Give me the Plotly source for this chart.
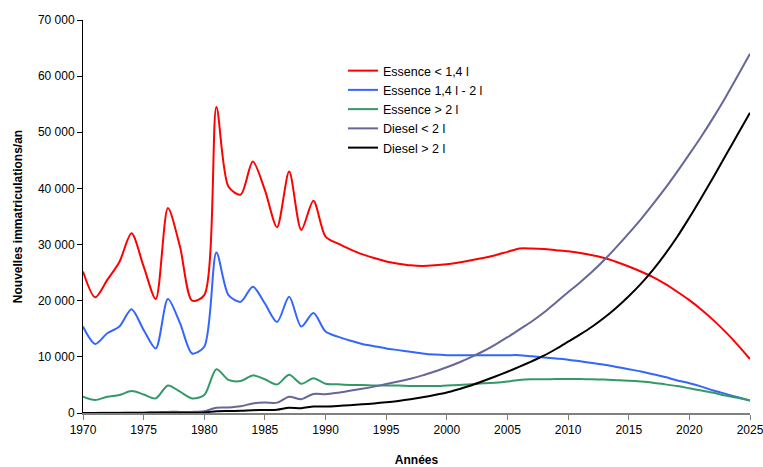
import plotly.graph_objects as go

years = list(range(1970, 2026))

essence_lt_14 = [25200, 20600, 23700, 26900, 32000, 26100, 20300, 36500, 29600, 20000,
                 21000, 54500, 40300, 38900, 44800, 39700, 33100, 43000, 32600, 37800,
                 31400, 30200, 29200, 28300, 27600, 27000, 26600, 26300, 26200, 26300,
                 26500, 26800, 27200, 27600, 28100, 28700, 29300, 29300, 29200, 29000,
                 28800, 28500, 28100, 27600, 26900, 26100, 25200, 24200, 23000, 21600,
                 20100, 18400, 16500, 14400, 12100, 9600]

essence_14_2 = [15400, 12300, 14200, 15400, 18500, 14800, 11500, 20300, 16000, 10600,
                11800, 28600, 21000, 19800, 22500, 19500, 16200, 20700, 15400, 17800,
                14500, 13600, 12900, 12300, 11900, 11500, 11200, 10900, 10600, 10400,
                10300, 10300, 10300, 10300, 10300, 10300, 10300, 10100, 9900, 9700,
                9500, 9200, 8900, 8600, 8200, 7800, 7400, 6900, 6400, 5800,
                5300, 4700, 4000, 3400, 2800, 2200]

essence_gt_2 = [2900, 2300, 2900, 3200, 3900, 3300, 2600, 4900, 3800, 2600,
                3200, 7800, 5900, 5700, 6700, 6000, 5100, 6800, 5200, 6200,
                5200, 5100, 5000, 5000, 4900, 4900, 4900, 4800, 4800, 4800,
                4900, 5000, 5100, 5300, 5400, 5600, 5900, 6000, 6000, 6050,
                6050, 6050, 6000, 5950, 5850, 5750, 5600, 5400, 5100, 4800,
                4400, 4000, 3600, 3100, 2700, 2200]

diesel_lt_2 = [0, 0, 50, 50, 100, 100, 150, 200, 200, 200,
               300, 950, 1000, 1200, 1700, 1850, 1850, 2900, 2450, 3400,
               3350, 3600, 3950, 4300, 4700, 5150, 5600, 6100, 6700, 7400,
               8150, 9000, 9950, 11000, 12200, 13500, 14900, 16300, 17900, 19700,
               21500, 23300, 25200, 27300, 29600, 32000, 34500, 37200, 40000, 43000,
               46100, 49300, 52700, 56300, 60100, 64000]

diesel_gt_2 = [0, 0, 0, 0, 0, 0, 50, 50, 50, 50,
               100, 300, 350, 400, 500, 550, 600, 950, 850, 1150,
               1150, 1250, 1400, 1550, 1700, 1900, 2150, 2450, 2800, 3200,
               3650, 4250, 4900, 5700, 6500, 7350, 8250, 9200, 10200, 11400,
               12700, 14000, 15400, 17000, 18800, 20800, 23000, 25500, 28300, 31400,
               34800, 38400, 42100, 45900, 49700, 53500]

series_names = ["Essence < 1,4 l", "Essence 1,4 l - 2 l", "Essence > 2 l",
                "Diesel < 2 l", "Diesel > 2 l"]
series_values = [essence_lt_14, essence_14_2, essence_gt_2, diesel_lt_2, diesel_gt_2]
series_colors = ["#FF0000", "#3366FF", "#339966", "#666699", "#000000"]

x_ticks = list(range(1970, 2026, 5))
y_ticks = list(range(0, 70001, 10000))

fig = go.Figure()
for name, vals, col in zip(series_names, series_values, series_colors):
    fig.add_trace(go.Scatter(
        x=years, y=vals, name=name, mode="lines",
        line=dict(color=col, width=2, shape="spline", smoothing=0.8),
    ))

fig.update_layout(
    width=763, height=467,
    margin=dict(l=83, r=13, t=20, b=54, autoexpand=False),
    paper_bgcolor="white", plot_bgcolor="white",
    separators=", ",
    font=dict(family="Liberation Sans, Arial, sans-serif", size=12, color="#000000"),
    showlegend=True,
    legend=dict(
        x=260 / 667, y=1 - 36 / 393,
        xanchor="left", yanchor="top",
        bgcolor="rgba(0,0,0,0)", borderwidth=0,
        font=dict(size=12.5, color="#000000"),
        itemwidth=30, tracegroupgap=0,
    ),
    xaxis=dict(
        range=[1970, 2025], tickvals=x_ticks, ticktext=[str(t) for t in x_ticks],
        showgrid=False, zeroline=False, automargin=False,
        showline=True, linecolor="#808080", linewidth=2,
        ticks="outside", ticklen=5, tickcolor="#808080", tickwidth=1,
        tickfont=dict(size=12), ticklabeloverflow="allow",
        title=dict(text="<b>Années</b>", font=dict(size=12), standoff=21),
    ),
    yaxis=dict(
        range=[0, 70000], tickvals=y_ticks, tickformat=",d",
        showgrid=False, zeroline=False, automargin=False,
        showline=True, linecolor="#000000", linewidth=1,
        ticks="outside", ticklen=5, tickcolor="#000000",
        tickfont=dict(size=12),
        title=dict(text="<b>Nouvelles immatriculations/an</b>", font=dict(size=12), standoff=12.5),
    ),
)

fig.write_html("out.html",
               config={"displayModeBar": False},
               post_script="document.body.style.margin='0';document.body.style.overflow='hidden';")
